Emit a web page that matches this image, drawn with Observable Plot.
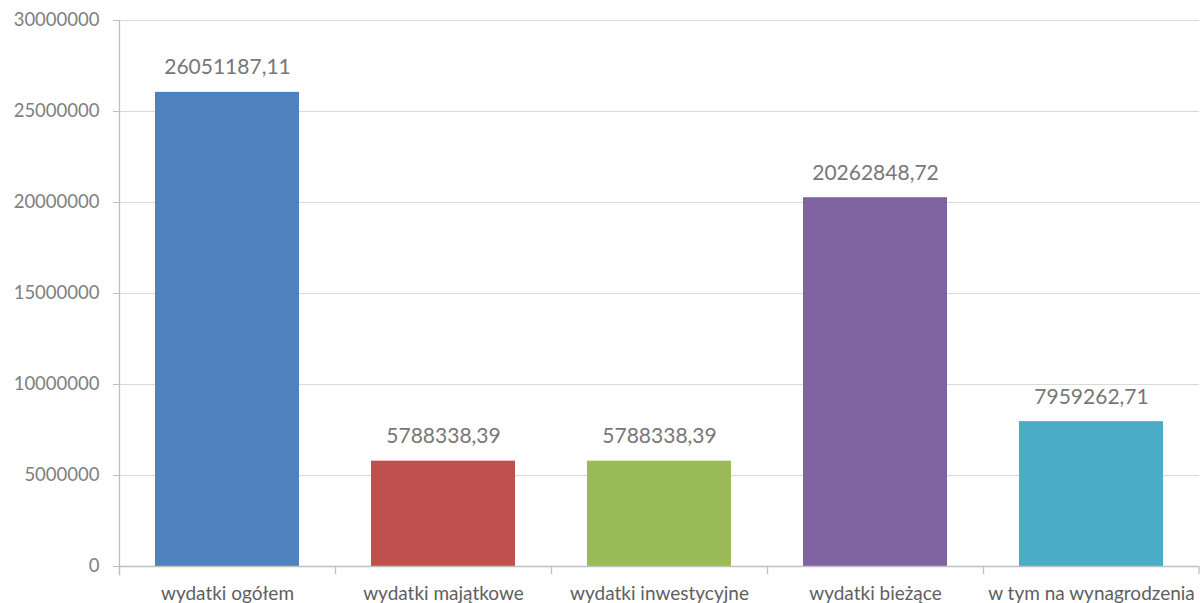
<!DOCTYPE html>
<html>
<head>
<meta charset="utf-8">
<script src="https://cdn.jsdelivr.net/npm/d3@7"></script>
<script src="https://cdn.jsdelivr.net/npm/@observablehq/plot@0.6"></script>
<style>
  html, body { margin: 0; padding: 0; background: #fff; }
  #chart svg { display: block; }
</style>
</head>
<body>
<div id="chart"></div>
<script>
const categories = ["wydatki ogółem", "wydatki majątkowe", "wydatki inwestycyjne", "wydatki bieżące", "w tym na wynagrodzenia"];
const values = [26051187.11, 5788338.39, 5788338.39, 20262848.72, 7959262.71];
const colors = ["#4F81BD", "#C0504D", "#9BBB59", "#8064A2", "#4BACC6"];
const yTicks = [0, 5000000, 10000000, 15000000, 20000000, 25000000, 30000000];

const data = categories.map((c, i) => ({category: c, value: values[i], color: colors[i]}));
const fmt = v => v.toFixed(2).replace(".", ",");

const W = 1200, H = 603;
const mL = 119, mR = 1;
const step = (W - mL - mR) / categories.length;

const chart = Plot.plot({
  width: W,
  height: H,
  marginTop: 20,
  marginBottom: 37,
  marginLeft: mL,
  marginRight: mR,
  style: {fontFamily: "Lato, 'Open Sans', sans-serif", background: "#fff"},
  x: {domain: categories, paddingInner: 1/3, paddingOuter: 1/6, label: null},
  y: {domain: [0, 30000000], label: null},
  marks: [
    Plot.gridY(yTicks, {stroke: "#d9d9d9", strokeOpacity: 1}),
    Plot.barY(data, {x: "category", y: "value", fill: "color"}),
    Plot.ruleY([0], {stroke: "#bfbfbf", strokeWidth: 1.3}),
    Plot.frame({anchor: "left", stroke: "#bfbfbf", strokeWidth: 1.3, insetBottom: -8}),
    Plot.ruleX(categories, {x: d => d, dx: -step / 2, y1: 0, y2: 0, insetBottom: -8, stroke: "#bfbfbf", strokeWidth: 1.3}),
    Plot.ruleX([categories[categories.length - 1]], {x: d => d, dx: step / 2 - 0.5, y1: 0, y2: 0, insetBottom: -8, stroke: "#bfbfbf", strokeWidth: 1.3}),
    Plot.axisY({ticks: yTicks, tickFormat: d => String(d), tickSize: 6, tickPadding: 14, stroke: "#bfbfbf", fill: "#808080", fontSize: 18.5}),
    Plot.axisX({tickSize: 0, tickPadding: 20, fill: "#606060", fontSize: 19}),
    Plot.text(data, {x: "category", y: "value", text: d => fmt(d.value), dy: -18, lineAnchor: "bottom", fill: "#777777", fontSize: 21})
  ]
});
document.getElementById("chart").appendChild(chart);
</script>
</body>
</html>
